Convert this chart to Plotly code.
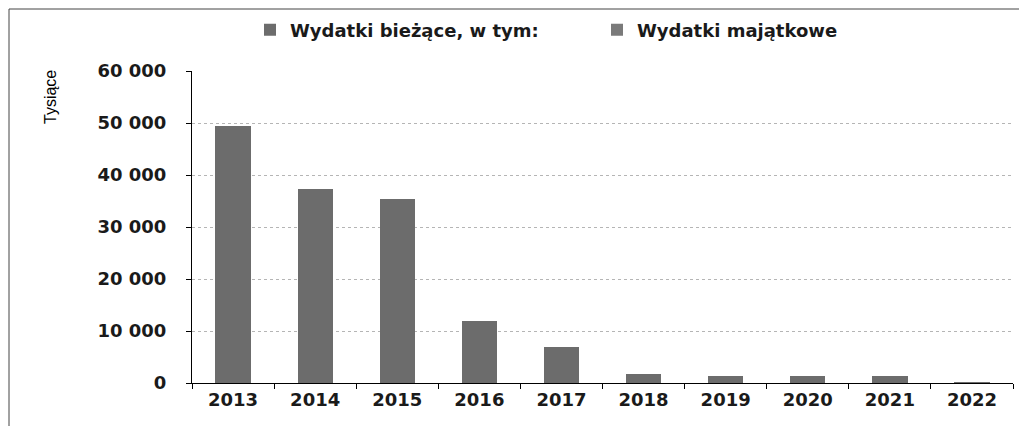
import plotly.graph_objects as go

years = ["2013", "2014", "2015", "2016", "2017", "2018", "2019", "2020", "2021", "2022"]
wydatki_biezace = [49500, 37300, 35400, 11900, 6900, 1700, 1400, 1400, 1400, 100]
wydatki_majatkowe = [0, 0, 0, 0, 0, 0, 0, 0, 0, 0]
y_ticks = [0, 10000, 20000, 30000, 40000, 50000, 60000]
y_tick_labels = ["0", "10 000", "20 000", "30 000", "40 000", "50 000", "60 000"]

# page body adds an 8px offset; work in reference pixel coords minus 8
OFF = 8
W, H = 1027 - OFF, 426 - OFF
L, T = 192 - OFF, 71 - OFF
R = W - (1013 - OFF)
B = H - (383 - OFF)
pw, ph = W - L - R, H - T - B

def px_x(x):
    return (x - OFF - L) / pw

def px_y(y):
    return (H - B - (y - OFF)) / ph

bar_color = "#6c6c6c"
tick_font = dict(size=18, family="DejaVu Sans", weight="bold", color="#1a1a1a")
leg_font = dict(size=18, family="DejaVu Sans", weight="bold", color="#1a1a1a")

fig = go.Figure()
fig.add_trace(go.Bar(x=years, y=wydatki_biezace, name="Wydatki bieżące, w tym:",
                     marker=dict(color=bar_color, line=dict(width=0))))
fig.add_trace(go.Bar(x=years, y=wydatki_majatkowe, name="Wydatki majątkowe",
                     marker=dict(color="#7a7a7a", line=dict(width=0))))

fig.update_layout(
    width=W, height=H,
    margin=dict(l=L, r=R, t=T, b=B, autoexpand=False),
    barmode="stack", bargap=0.57,
    plot_bgcolor="white", paper_bgcolor="white",
    font=dict(family="DejaVu Sans", color="black", size=16),
    legend=dict(orientation="h", x=px_x(250), y=px_y(30), xanchor="left", yanchor="middle",
                font=leg_font, bgcolor="rgba(0,0,0,0)", traceorder="normal",
                entrywidth=302, entrywidthmode="pixels"),
    xaxis=dict(type="category", showline=True, linecolor="black", linewidth=1,
               ticks="outside", ticklen=5, tickcolor="black", tickson="boundaries",
               tickfont=tick_font, showgrid=False, automargin=False),
    yaxis=dict(range=[0, 60000], tickvals=y_ticks, ticktext=y_tick_labels,
               showline=True, linecolor="black", linewidth=1,
               ticks="outside", ticklen=5, tickcolor="black",
               showgrid=True, gridcolor="#b5b5b5", griddash="dot", gridwidth=1,
               zeroline=False, tickfont=tick_font, ticklabelstandoff=16,
               automargin=False),
    annotations=[dict(text="Tysiące", xref="paper", yref="paper",
                      x=px_x(50), y=px_y(97), textangle=-90, showarrow=False,
                      xanchor="center", yanchor="middle",
                      font=dict(size=16, family="Liberation Sans Narrow, Liberation Sans", color="black"))],
    shapes=[
        dict(type="line", xref="paper", yref="paper",
             x0=px_x(9), x1=px_x(1027), y0=px_y(9), y1=px_y(9),
             line=dict(color="#444444", width=1)),
        dict(type="line", xref="paper", yref="paper",
             x0=px_x(9), x1=px_x(9), y0=px_y(9), y1=px_y(426),
             line=dict(color="#444444", width=1)),
    ],
)

fig.write_html("out.html")
